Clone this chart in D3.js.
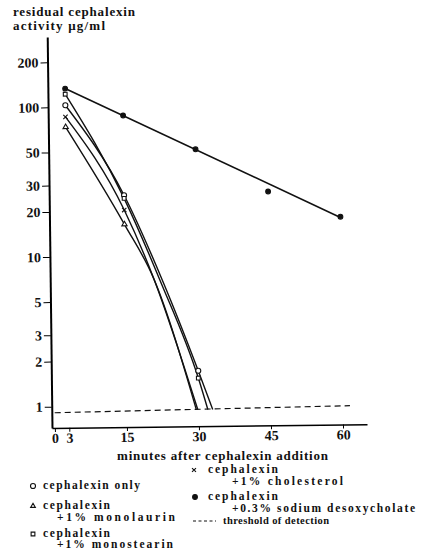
<!DOCTYPE html>
<html lang="en">
<head>
<meta charset="utf-8">
<title>Residual cephalexin activity</title>
<script src="https://d3js.org/d3.v7.min.js"></script>
<style>
  body { margin: 0; background: #fff; }
  svg text { font-family: "Liberation Serif", "DejaVu Serif", serif; fill: #111; }
</style>
</head>
<body>
<script>
// values: [minutes, residual activity µg/ml]
var xTicks = [0, 3, 15, 30, 45, 60];
var yTicks = [1, 2, 3, 5, 10, 20, 30, 50, 100, 200];

var onlyPts = [[3, 103], [15, 25.5], [30, 1.69]];
var onlyLine = [[3, 103], [15, 25.5], [22.8, 6.8], [30, 1.69], [32.9, 0.93]];

var laurinPts = [[3, 73.6], [15, 16.3]];
var laurinLine = [[3, 73.6], [15, 16.3], [21, 7], [29.5, 0.93]];

var stearinPts = [[3, 122], [15, 24.3], [30, 1.51]];
var stearinLine = [[3, 122], [15, 24.3], [22.3, 6.8], [30, 1.51], [31.9, 0.93]];

var cholPts = [[3, 86], [15, 20.3]];
var cholLine = [[3, 86], [15, 20.3], [21, 7], [29.8, 0.93]];

var desoxyPts = [[3, 133], [15, 87], [30, 51], [45, 26.3], [60, 17.6]];
var desoxyLine = [[3, 133], [60, 17.4]];

var threshold = [[0, 0.91], [61.5, 0.96]];

var w = 434, h = 550;

var svg = d3.select("body").append("svg")
    .attr("width", w)
    .attr("height", h);

var x = d3.scaleLinear().domain([-0.6, 65]).range([52, 367]);
var y = d3.scaleLog().domain([0.72, 295]).range([428, 37]);

// the printed figure is scanned slightly askew
var plot = svg.append("g").attr("transform", "rotate(-0.7,52,428)");

var yAxis = plot.append("g")
    .attr("transform", "translate(52,0)")
    .call(d3.axisLeft(y).tickValues(yTicks).tickFormat(d3.format("d"))
      .tickSize(7).tickSizeOuter(0).tickPadding(2));
yAxis.select(".domain").attr("stroke-width", 2);
yAxis.selectAll("text").style("font-size", "14px").style("font-weight", "bold");

var xAxis = plot.append("g")
    .attr("transform", "translate(0,428)")
    .call(d3.axisBottom(x).tickValues(xTicks).tickSize(4).tickSizeOuter(0).tickPadding(1));
xAxis.select(".domain").attr("stroke-width", 1.5);
xAxis.selectAll("text").style("font-size", "14px").style("font-weight", "bold");

var line = d3.line()
    .x(function(d) { return x(d[0]); })
    .y(function(d) { return y(d[1]); })
    .curve(d3.curveMonotoneX);

var straight = d3.line()
    .x(function(d) { return x(d[0]); })
    .y(function(d) { return y(d[1]); });

plot.append("path").datum(threshold)
    .attr("d", straight)
    .attr("fill", "none").attr("stroke", "#111")
    .attr("stroke-width", 1.2).attr("stroke-dasharray", "6,4");

[onlyLine, laurinLine, stearinLine, cholLine].forEach(function(s) {
  plot.append("path").datum(s)
      .attr("d", line)
      .attr("fill", "none").attr("stroke", "#111").attr("stroke-width", 1.4);
});

plot.append("path").datum(desoxyLine)
    .attr("d", straight)
    .attr("fill", "none").attr("stroke", "#111").attr("stroke-width", 1.6);

function drawMarks(pts, type, size, filled) {
  plot.selectAll(null).data(pts).enter().append("path")
      .attr("transform", function(d) { return "translate(" + x(d[0]) + "," + y(d[1]) + ")"; })
      .attr("d", d3.symbol().type(type).size(size))
      .attr("fill", filled ? "#111" : "#fff")
      .attr("stroke", "#111").attr("stroke-width", 1.1);
}

drawMarks(onlyPts, d3.symbolCircle, 20, false);
drawMarks(laurinPts, d3.symbolTriangle2, 20, false);
drawMarks(stearinPts, d3.symbolSquare2, 18, false);
drawMarks(cholPts, d3.symbolX, 14, false);
drawMarks(desoxyPts, d3.symbolCircle, 18, true);

// axis titles
svg.append("text")
    .attr("x", 13).attr("y", 16).attr("textLength", 122)
    .style("font-size", "13px").style("font-weight", "bold")
    .text("residual cephalexin");
svg.append("text")
    .attr("x", 13).attr("y", 30).attr("textLength", 92)
    .style("font-size", "13px").style("font-weight", "bold")
    .text("activity μg/ml");

svg.append("text")
    .attr("x", 117).attr("y", 460).attr("textLength", 211)
    .style("font-size", "13px").style("font-weight", "bold")
    .text("minutes after cephalexin addition");

// legend
var legendMarks = [
  {type: d3.symbolCircle, size: 20, filled: false, mx: 33, my: 486},
  {type: d3.symbolTriangle2, size: 16, filled: false, mx: 33, my: 506},
  {type: d3.symbolSquare2, size: 18, filled: false, mx: 33, my: 534},
  {type: d3.symbolX, size: 12, filled: false, mx: 194, my: 470},
  {type: d3.symbolCircle, size: 18, filled: true, mx: 195, my: 497}
];
var legendTexts = [
  {x: 43, y: 489, len: 97, t: "cephalexin only"},
  {x: 43, y: 509, len: 67, t: "cephalexin"},
  {x: 57, y: 521, len: 118, t: "+1% monolaurin"},
  {x: 43, y: 537, len: 67, t: "cephalexin"},
  {x: 57, y: 548, len: 116, t: "+1% monostearin"},
  {x: 208, y: 473, len: 70, t: "cephalexin"},
  {x: 232, y: 485, len: 111, t: "+1% cholesterol"},
  {x: 208, y: 500, len: 70, t: "cephalexin"},
  {x: 232, y: 512, len: 183, t: "+0.3% sodium desoxycholate"},
  {x: 223, y: 524, len: 106, t: "threshold of detection"}
];

svg.selectAll(null).data(legendMarks).enter().append("path")
    .attr("transform", function(d) { return "translate(" + d.mx + "," + d.my + ")"; })
    .attr("d", function(d) { return d3.symbol().type(d.type).size(d.size)(); })
    .attr("fill", function(d) { return d.filled ? "#111" : "#fff"; })
    .attr("stroke", "#111").attr("stroke-width", 1.1);

svg.append("line")
    .attr("x1", 193).attr("x2", 216).attr("y1", 521).attr("y2", 521)
    .attr("stroke", "#111").attr("stroke-width", 1).attr("stroke-dasharray", "3,2.5");

svg.selectAll(null).data(legendTexts).enter().append("text")
    .attr("x", function(d) { return d.x; })
    .attr("y", function(d) { return d.y; })
    .attr("textLength", function(d) { return d.len; })
    .style("font-size", function(d, i) { return i === 9 ? "10.5px" : "11.5px"; })
    .style("font-weight", "bold")
    .text(function(d) { return d.t; });
</script>
</body>
</html>
